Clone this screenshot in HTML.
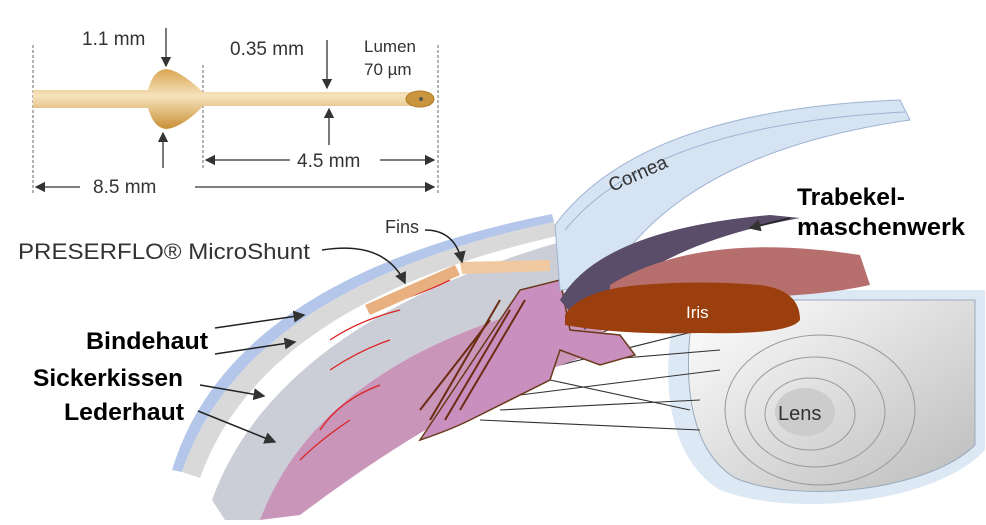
<!DOCTYPE html>
<html><head><meta charset="utf-8"><style>
body{margin:0;background:#fff}
svg{display:block}
.t{font-family:"Liberation Sans",sans-serif;fill:#333}
.b{font-family:"Liberation Sans",sans-serif;font-weight:bold;fill:#000;font-size:24px}
</style></head><body>
<svg width="986" height="525" viewBox="0 0 986 525" xmlns="http://www.w3.org/2000/svg">
<defs>
<marker id="a" markerWidth="8" markerHeight="8" refX="7" refY="4" orient="auto"><path d="M0,0 L8,4 L0,8z" fill="#333"/></marker>
<linearGradient id="tube" x1="0" y1="0" x2="0" y2="1"><stop offset="0" stop-color="#d9a54f"/><stop offset=".45" stop-color="#f6e3bd"/><stop offset="1" stop-color="#c98f35"/></linearGradient>
<linearGradient id="lens" x1="0" y1="0" x2="1" y2="1"><stop offset="0" stop-color="#fff"/><stop offset="1" stop-color="#bbb"/></linearGradient>
</defs>
<g stroke="#666" stroke-dasharray="3,2" stroke-width="1"><line x1="33" y1="45" x2="33" y2="195"/><line x1="203" y1="65" x2="203" y2="170"/><line x1="438" y1="45" x2="438" y2="195"/></g>
<path d="M33,90 L148,90 C152,75 158,70 166,69 C178,70 192,82 203,92 L430,92 L430,106 L203,106 C192,118 178,128 166,129 C158,128 152,122 148,108 L33,108z" fill="url(#tube)"/>
<ellipse cx="420" cy="99" rx="14" ry="8" fill="#c9963e" stroke="#b07a26"/><circle cx="421" cy="99" r="2" fill="#555"/>
<g stroke="#333" stroke-width="1.3" fill="none">
<line x1="166" y1="28" x2="166" y2="66" marker-end="url(#a)"/>
<line x1="163" y1="168" x2="163" y2="133" marker-end="url(#a)"/>
<line x1="327" y1="40" x2="327" y2="88" marker-end="url(#a)"/>
<line x1="329" y1="145" x2="329" y2="109" marker-end="url(#a)"/>
<line x1="290" y1="160" x2="206" y2="160" marker-end="url(#a)"/>
<line x1="380" y1="160" x2="434" y2="160" marker-end="url(#a)"/>
<line x1="80" y1="187" x2="36" y2="187" marker-end="url(#a)"/>
<line x1="195" y1="187" x2="434" y2="187" marker-end="url(#a)"/>
</g>
<g class="t" font-size="19"><text x="82" y="45">1.1 mm</text><text x="230" y="55">0.35 mm</text><text x="364" y="52" font-size="17">Lumen</text><text x="364" y="75" font-size="17">70 µm</text><text x="297" y="167">4.5 mm</text><text x="93" y="193">8.5 mm</text></g>
<path d="M680,290 L985,290 L985,450 C940,500 800,520 720,490 C670,460 655,380 680,290z" fill="#dde8f5"/>
<path d="M695,300 L975,300 L975,445 C930,490 800,505 735,478 C690,450 680,380 695,300z" fill="url(#lens)" stroke="#9ab"/>
<g fill="none" stroke="#999"><ellipse cx="820" cy="410" rx="95" ry="75"/><ellipse cx="815" cy="412" rx="70" ry="55"/><ellipse cx="810" cy="414" rx="45" ry="36"/></g>
<ellipse cx="805" cy="412" rx="30" ry="24" fill="#ccc"/>
<text class="t" x="778" y="420" font-size="20" fill="#222">Lens</text>
<g stroke="#333" stroke-width="1.1"><line x1="540" y1="355" x2="690" y2="300"/><line x1="540" y1="370" x2="700" y2="330"/><line x1="520" y1="395" x2="720" y2="370"/><line x1="500" y1="410" x2="700" y2="400"/><line x1="480" y1="420" x2="700" y2="430"/><line x1="550" y1="380" x2="690" y2="410"/><line x1="600" y1="360" x2="720" y2="350"/></g>
<path d="M172,470 Q230,278 552,214 L554,222 Q244,287 182,472z" fill="#b4c6ea"/>
<path d="M182,472 Q244,287 554,222 L557,236 Q262,303 200,478z" fill="#d9d9d9"/>
<path d="M212,500 Q275,325 560,242 L565,300 Q320,360 260,520 L225,520z" fill="#cbced7"/>
<path d="M260,520 Q320,360 565,300 L620,345 Q540,370 480,400 Q400,440 300,515z" fill="#c996ba"/>
<path d="M420,440 L520,290 L560,280 L570,330 L620,335 L635,355 L600,365 L560,350 L550,380 L470,420 Q450,430 420,440z" fill="#c88fbf" stroke="#6b3a1a" stroke-width="1.5"/>
<g stroke="#6b2d12" stroke-width="2" fill="none"><path d="M430,420 L500,300"/><path d="M445,420 L510,310"/><path d="M460,410 L525,300"/><path d="M420,410 L490,320"/></g>
<g stroke="#d22" stroke-width="1.3" fill="none"><path d="M320,430 Q340,400 380,385"/><path d="M300,460 Q320,440 350,420"/><path d="M330,370 Q360,350 390,340"/><path d="M400,300 Q430,290 450,280"/><path d="M330,340 Q360,320 400,310"/></g>
<path d="M365,305 L455,265 L460,275 L370,315z" fill="#e9b07f"/>
<path d="M460,262 L550,260 L550,271 L462,274z" fill="#f0c9a0"/>
<path d="M595,255 L650,255 L650,264 L595,264z" fill="#f0c9a0"/><circle cx="648" cy="259" r="5" fill="#e9c27a"/>
<path d="M555,225 Q640,110 900,100 L910,120 Q700,150 620,260 Q580,290 560,290z" fill="#d5e3f3" stroke="#9fb4d2"/>
<path d="M565,230 Q650,125 905,112" fill="none" stroke="#9fb4d2"/>
<text class="t" x="612" y="192" font-size="19" transform="rotate(-24 612 192)">Cornea</text>
<path d="M560,300 Q600,230 770,215 L800,218 Q680,240 620,290 L585,330z" fill="#5a4d6a"/>
<path d="M610,285 Q700,230 860,255 L870,285 Q800,300 720,295 Q660,300 610,300z" fill="#b76f6e"/>
<path d="M565,315 Q580,290 640,285 Q700,280 760,285 Q800,290 800,320 Q790,335 700,333 Q620,335 565,325z" fill="#9c3f0e"/>
<text x="686" y="318" font-family="Liberation Sans,sans-serif" font-size="17" fill="#fff">Iris</text>
<text class="t" x="18" y="259" font-size="22" fill="#444" textLength="292" lengthAdjust="spacingAndGlyphs">PRESERFLO® MicroShunt</text>
<text class="t" x="385" y="233" font-size="18">Fins</text>
<g stroke="#222" stroke-width="1.5" fill="none">
<path d="M322,250 Q385,240 405,283" marker-end="url(#a)"/>
<path d="M425,230 Q455,230 462,262" marker-end="url(#a)"/>
<line x1="215" y1="328" x2="304" y2="315" marker-end="url(#a)"/>
<line x1="215" y1="354" x2="295" y2="342" marker-end="url(#a)"/>
<line x1="200" y1="385" x2="264" y2="396" marker-end="url(#a)"/>
<line x1="198" y1="411" x2="275" y2="442" marker-end="url(#a)"/>
<line x1="790" y1="218" x2="750" y2="228" marker-end="url(#a)"/>
</g>
<text class="b" x="86" y="349" textLength="122" lengthAdjust="spacingAndGlyphs">Bindehaut</text>
<text class="b" x="33" y="386" textLength="150" lengthAdjust="spacingAndGlyphs">Sickerkissen</text>
<text class="b" x="64" y="420" textLength="120" lengthAdjust="spacingAndGlyphs">Lederhaut</text>
<text class="b" x="797" y="205" textLength="108" lengthAdjust="spacingAndGlyphs">Trabekel-</text>
<text class="b" x="797" y="235" textLength="168" lengthAdjust="spacingAndGlyphs">maschenwerk</text>
</svg>
</body></html>
